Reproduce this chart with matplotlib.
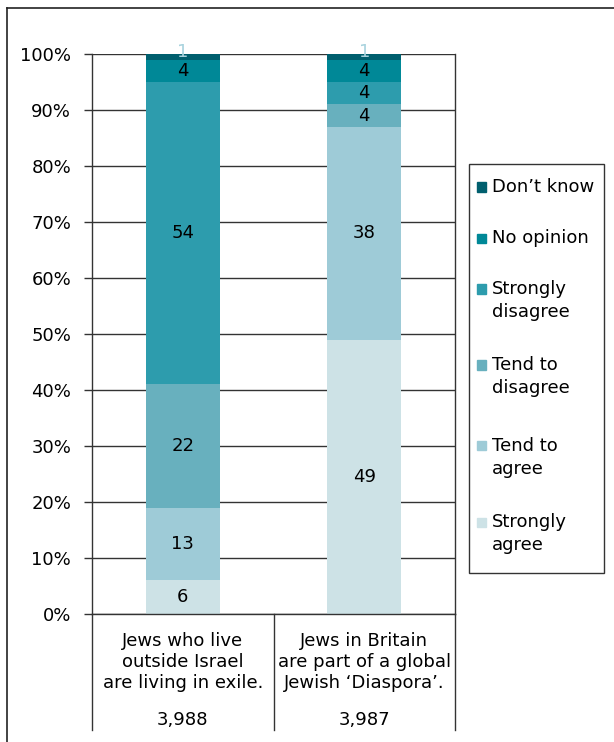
import matplotlib.pyplot as plt
from matplotlib.lines import Line2D
from matplotlib.patches import Rectangle

# survey results, percent of respondents
categories = ["Jews who live\noutside Israel\nare living in exile.",
              "Jews in Britain\nare part of a global\nJewish \u2018Diaspora\u2019."]
sample_sizes = ["3,988", "3,987"]
responses = ["Strongly\nagree", "Tend to\nagree", "Tend to\ndisagree",
             "Strongly\ndisagree", "No opinion", "Don\u2019t know"]
strongly_agree = [6, 49]
tend_agree = [13, 38]
tend_disagree = [22, 4]
strongly_disagree = [54, 4]
no_opinion = [4, 4]
dont_know = [1, 1]
series = [strongly_agree, tend_agree, tend_disagree, strongly_disagree, no_opinion, dont_know]
colors = ["#cde2e6", "#9ecbd7", "#68b0be", "#2d9cad", "#008897", "#005f6e"]

W, H = 614, 742
fig = plt.figure(figsize=(W / 100, H / 100), dpi=100)
ax = fig.add_axes([92 / W, 1 - 614 / H, (455 - 92) / W, 560 / H])

x = list(range(len(categories)))
bottom = [0] * len(categories)
for vals, col in zip(series, colors):
    ax.bar(x, vals, 0.41, bottom=bottom, color=col, zorder=2)
    for i, v in enumerate(vals):
        if v == 1:
            # tiny top segment: label sits on the top edge
            ax.text(x[i], bottom[i] + v + 0.3, str(v), ha="center", va="center",
                    fontsize=13, color="#a9d3de", zorder=3)
        else:
            ax.text(x[i], bottom[i] + v / 2, str(v), ha="center", va="center",
                    fontsize=13, color="black", zorder=3)
    bottom = [b + v for b, v in zip(bottom, vals)]

ax.set_xlim(-0.5, 1.5)
ax.set_ylim(0, 100)
ax.set_yticks(range(0, 101, 10))
ax.set_yticklabels([f"{t}%" for t in range(0, 101, 10)], fontsize=13)
ax.tick_params(axis="y", length=6, width=1, color="#333333", pad=9)
ax.set_xticks([])
ax.grid(axis="y", color="#333333", lw=1)
ax.set_axisbelow(True)
ax.spines["top"].set_visible(False)
for s in ["left", "right", "bottom"]:
    ax.spines[s].set_color("#333333")
    ax.spines[s].set_linewidth(1)

# table under the bars
xt = ax.get_xaxis_transform()
for i, cat in enumerate(categories):
    ax.text(x[i], -0.086, cat, transform=xt, ha="center", va="center",
            fontsize=13, linespacing=1.2)
    ax.text(x[i], -0.189, sample_sizes[i], transform=xt, ha="center", va="center",
            fontsize=13)
for xa in [0, 0.5, 1]:
    ax.add_line(Line2D([xa, xa], [0, -0.207], transform=ax.transAxes,
                       color="#333333", lw=1, clip_on=False))

# outer frame
fig.add_artist(Line2D([6.5 / W, 6.5 / W], [0, 1 - 8 / H], color="#222222", lw=1.2))
fig.add_artist(Line2D([6.5 / W, 1], [1 - 8 / H, 1 - 8 / H], color="#222222", lw=1.2))

# legend box
fig.add_artist(Rectangle((469 / W, 1 - 573 / H), (604 - 469) / W, (573 - 164) / H,
                         transform=fig.transFigure, fill=False,
                         edgecolor="#333333", lw=1))
first_line = [522, 446, 365, 289, 238, 187]
for lab, col, y in zip(responses, colors, first_line):
    fig.add_artist(Rectangle((477 / W, 1 - (y + 4.5) / H), 9 / W, 9 / H,
                             transform=fig.transFigure, color=col))
    n = lab.count("\n")
    yc = y + n * 11.5
    fig.text(492 / W, 1 - yc / H, lab, ha="left", va="center", fontsize=13,
             linespacing=1.3)

fig.savefig("out.png", dpi=100)
